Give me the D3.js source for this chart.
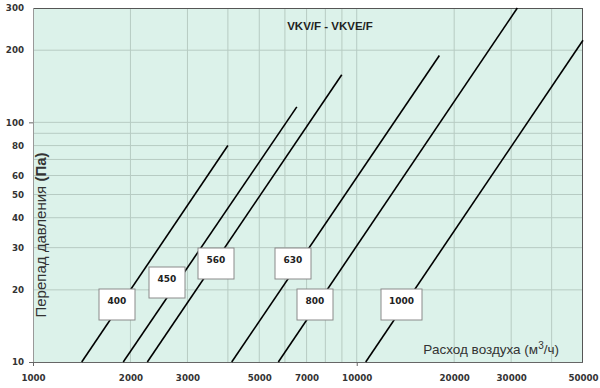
<!DOCTYPE html>
<html>
<head>
<meta charset="utf-8">
<script src="https://cdn.jsdelivr.net/npm/d3@7"></script>
<style>
body { margin: 0; background: #fff; }
svg { display: block; }
</style>
</head>
<body>
<svg id="chart" width="600" height="388"></svg>
<script>
// ---- data ----
const seriesNames = ["400", "450", "560", "630", "800", "1000"];
// each series: start and end points [airflow m3/h, pressure Pa]
const series400 = [[1414, 10], [4000, 80]];
const series450 = [[1900, 10], [6530, 116]];
const series560 = [[2255, 10], [8990, 158]];
const series630 = [[4110, 10], [18000, 190]];
const series800 = [[5726, 10], [31340, 300]];
const series1000 = [[10660, 10], [50000, 220]];
const seriesData = [series400, series450, series560, series630, series800, series1000];

const xTickLabels = [1000, 2000, 3000, 5000, 7000, 10000, 20000, 30000, 50000];
const yTickLabels = [10, 20, 30, 40, 50, 60, 80, 100, 200, 300];
const xGrid = [2000, 3000, 4000, 5000, 6000, 7000, 8000, 9000, 10000, 20000, 30000, 40000];
const yGrid = [20, 30, 40, 50, 60, 70, 80, 90, 100, 200];

// label box layout (pixel positions: left, top)
const labelBoxes = [[99, 289], [149, 267], [198, 248], [275, 248], [297, 289], [381, 289]];

// ---- layout ----
const svg = d3.select("#chart");
const L = 33, R = 583, T = 8, B = 362;
const x = d3.scaleLog().domain([1000, 50000]).range([L, R]);
const y = d3.scaleLog().domain([10, 300]).range([B, T]);

svg.append("rect").attr("x", L).attr("y", T).attr("width", R - L).attr("height", B - T)
  .attr("fill", "#dcf2ea");

// gridlines
svg.append("g").selectAll("line").data(xGrid).join("line")
  .attr("x1", d => x(d)).attr("x2", d => x(d)).attr("y1", T).attr("y2", B)
  .attr("stroke", "#b7cbc3").attr("stroke-width", 1);
svg.append("g").selectAll("line").data(yGrid).join("line")
  .attr("y1", d => y(d)).attr("y2", d => y(d)).attr("x1", L).attr("x2", R)
  .attr("stroke", "#b7cbc3").attr("stroke-width", 1);

// frame
svg.append("line").attr("x1", L).attr("x2", R).attr("y1", T + 0.5).attr("y2", T + 0.5).attr("stroke", "#555");
svg.append("line").attr("x1", R - 0.5).attr("x2", R - 0.5).attr("y1", T).attr("y2", B).attr("stroke", "#555");
svg.append("line").attr("x1", L + 0.5).attr("x2", L + 0.5).attr("y1", T).attr("y2", B).attr("stroke", "#999");
svg.append("line").attr("x1", L).attr("x2", R).attr("y1", B + 0.5).attr("y2", B + 0.5).attr("stroke", "#666");

// axes (labels)
const xAxis = d3.axisBottom(x).tickValues(xTickLabels).tickFormat(d3.format("d")).tickSize(0).tickPadding(13);
const gx = svg.append("g").attr("transform", `translate(0,${B})`).call(xAxis);
gx.select(".domain").remove();
gx.selectAll("text").attr("font-family", "DejaVu Sans").attr("font-weight", "bold")
  .attr("font-size", "8.7px").attr("fill", "#333");

const yAxis = d3.axisLeft(y).tickValues(yTickLabels).tickFormat(d3.format("d")).tickSize(0).tickPadding(9);
const gy = svg.append("g").attr("transform", `translate(${L},0)`).call(yAxis);
gy.select(".domain").remove();
gy.selectAll("text").attr("font-family", "DejaVu Sans").attr("font-weight", "bold")
  .attr("font-size", "8.7px").attr("fill", "#333");

// major tick marks
svg.append("g").selectAll("line").data([1000, 10000]).join("line")
  .attr("x1", d => x(d) + 0.5).attr("x2", d => x(d) + 0.5).attr("y1", B).attr("y2", B + 4).attr("stroke", "#666");
svg.append("g").selectAll("line").data([10, 100]).join("line")
  .attr("y1", d => y(d) + 0.5).attr("y2", d => y(d) + 0.5).attr("x1", L - 4).attr("x2", L).attr("stroke", "#666");

// series lines
const line = d3.line().x(d => x(d[0])).y(d => y(d[1]));
svg.append("g").selectAll("path").data(seriesData).join("path")
  .attr("d", line).attr("fill", "none").attr("stroke", "#000").attr("stroke-width", 1.6);

// label boxes
const lg = svg.append("g").selectAll("g").data(seriesNames).join("g")
  .attr("transform", (d, i) => `translate(${labelBoxes[i][0]},${labelBoxes[i][1]})`);
lg.append("rect").attr("width", (d) => d.length > 3 ? 41 : 36).attr("height", 31)
  .attr("fill", "#fff").attr("stroke", "#8a8a8a").attr("stroke-width", 1);
lg.append("text").attr("x", d => d.length > 3 ? 20.5 : 18).attr("y", 14.5)
  .attr("text-anchor", "middle").attr("font-family", "DejaVu Sans").attr("font-weight", "bold")
  .attr("font-size", "9px").attr("fill", "#222").text(d => d);

// title
svg.append("text").attr("x", 330).attr("y", 30).attr("text-anchor", "middle")
  .attr("font-family", "Liberation Sans").attr("font-weight", "bold").attr("font-size", "11.5px")
  .attr("fill", "#222").text("VKV/F - VKVE/F");

// y axis title
const yt = svg.append("text").attr("transform", "translate(46,235) rotate(-90)")
  .attr("text-anchor", "middle").attr("font-family", "Liberation Sans").attr("font-size", "15px").attr("fill", "#333");
yt.append("tspan").text("Перепад давления ");
yt.append("tspan").attr("font-weight", "bold").text("(Па)");

// x axis title
const xt = svg.append("text").attr("x", 559).attr("y", 354).attr("text-anchor", "end")
  .attr("font-family", "Liberation Sans").attr("font-size", "13.5px").attr("fill", "#333");
xt.append("tspan").text("Расход воздуха (м");
xt.append("tspan").attr("dy", -5).attr("font-size", "10px").text("3");
xt.append("tspan").attr("dy", 5).text("/ч)");
</script>
</body>
</html>
